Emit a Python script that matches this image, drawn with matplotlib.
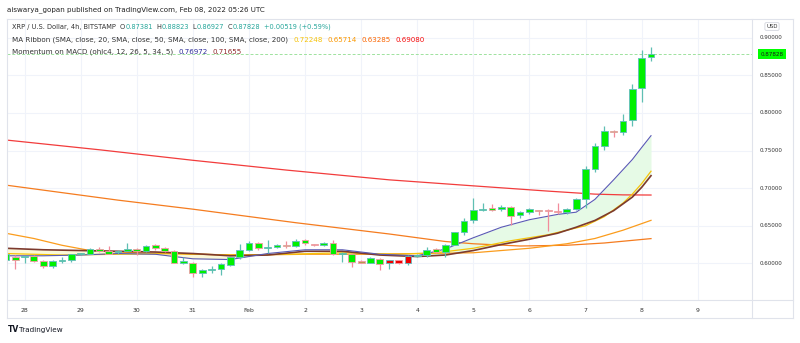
import numpy as np
import matplotlib.pyplot as plt

plt.rcParams['font.family'] = ['DejaVu Sans']

# XRP/USD 4h candles, Jan 27 16:00 .. Feb 8 04:00 UTC (index 0..69)
opens = [0.605, 0.609, 0.608, 0.610, 0.603, 0.596, 0.603, 0.605, 0.612, 0.613,
         0.619, 0.617, 0.615, 0.617, 0.618, 0.617, 0.624, 0.621, 0.617, 0.601,
         0.601, 0.587, 0.591, 0.592, 0.598, 0.608, 0.618, 0.627, 0.620, 0.622,
         0.624, 0.623, 0.631, 0.625, 0.624, 0.627, 0.612, 0.613, 0.603, 0.601,
         0.606, 0.600, 0.604, 0.601, 0.610, 0.611, 0.619, 0.615, 0.625, 0.641,
         0.657, 0.6705, 0.6725, 0.672, 0.675, 0.664, 0.668, 0.671, 0.671, 0.669,
         0.668, 0.672, 0.686, 0.726, 0.756, 0.776, 0.774, 0.790, 0.833, 0.87381]
highs = [0.615, 0.611, 0.610, 0.611, 0.605, 0.604, 0.608, 0.613, 0.614, 0.620,
         0.622, 0.623, 0.618, 0.627, 0.621, 0.624, 0.626, 0.622, 0.618, 0.609,
         0.602, 0.592, 0.596, 0.600, 0.609, 0.626, 0.629, 0.628, 0.631, 0.626,
         0.629, 0.632, 0.632, 0.626, 0.628, 0.631, 0.615, 0.614, 0.604, 0.608,
         0.607, 0.605, 0.605, 0.611, 0.613, 0.622, 0.621, 0.626, 0.642, 0.660,
         0.687, 0.680, 0.679, 0.678, 0.676, 0.669, 0.673, 0.671, 0.672, 0.680,
         0.673, 0.687, 0.730, 0.760, 0.783, 0.777, 0.799, 0.839, 0.884, 0.88823]
lows = [0.603, 0.592, 0.600, 0.602, 0.594, 0.594, 0.600, 0.602, 0.611, 0.612,
        0.615, 0.612, 0.613, 0.616, 0.611, 0.615, 0.618, 0.615, 0.600, 0.599,
        0.582, 0.582, 0.587, 0.584, 0.597, 0.606, 0.617, 0.618, 0.614, 0.620,
        0.620, 0.622, 0.624, 0.623, 0.623, 0.611, 0.602, 0.595, 0.600, 0.600,
        0.591, 0.592, 0.599, 0.598, 0.609, 0.609, 0.614, 0.608, 0.624, 0.638,
        0.653, 0.669, 0.670, 0.669, 0.651, 0.660, 0.666, 0.664, 0.643, 0.666,
        0.666, 0.671, 0.673, 0.721, 0.751, 0.768, 0.771, 0.783, 0.815, 0.86927]
closes = [0.612, 0.605, 0.609, 0.603, 0.596, 0.603, 0.605, 0.612, 0.613, 0.619,
          0.616, 0.613, 0.616, 0.618, 0.617, 0.623, 0.620, 0.616, 0.601, 0.603,
          0.587, 0.591, 0.592, 0.599, 0.608, 0.618, 0.627, 0.620, 0.622, 0.624,
          0.623, 0.629, 0.627, 0.624, 0.627, 0.612, 0.614, 0.602, 0.601, 0.607,
          0.599, 0.604, 0.600, 0.610, 0.611, 0.618, 0.615, 0.625, 0.641, 0.656,
          0.671, 0.6712, 0.6715, 0.675, 0.663, 0.668, 0.672, 0.670, 0.669, 0.668,
          0.672, 0.685, 0.726, 0.756, 0.776, 0.774, 0.789, 0.832, 0.873, 0.87828]
red_bars = [41, 42, 43]
tan_bars = [33, 38, 58, 59]

# MA Ribbon (SMA 20 / 50 / 100 / 200), read at a few bar indexes
sma20_k = [0, 6, 12, 18, 24, 30, 36, 42, 46, 50, 54, 58, 62, 64, 66, 67, 68, 69]
sma20 = [0.613, 0.611, 0.612, 0.613, 0.611, 0.612, 0.614, 0.612, 0.614, 0.620,
         0.630, 0.638, 0.650, 0.662, 0.680, 0.692, 0.706, 0.72248]
sma50_k = [0, 3, 6, 9, 14, 20, 26, 32, 38, 44, 50, 56, 60, 63, 66, 69]
sma50 = [0.640, 0.633, 0.624, 0.617, 0.614, 0.612, 0.611, 0.612, 0.612, 0.613,
         0.614, 0.620, 0.626, 0.633, 0.644, 0.65714]
sma100_k = [0, 12, 20, 31, 41, 47, 50, 55, 60, 64, 69]
sma100 = [0.704, 0.684, 0.672, 0.654, 0.639, 0.629, 0.626, 0.623, 0.624, 0.627, 0.63285]
sma200_k = [0, 10, 20, 30, 41, 50, 58, 63, 66, 69]
sma200 = [0.764, 0.751, 0.737, 0.724, 0.711, 0.703, 0.696, 0.692, 0.691, 0.6908]

# Momentum on MACD, fast / slow lines
macd_k = [0, 4, 8, 12, 16, 20, 24, 28, 32, 36, 40, 44, 47, 50, 53, 56, 59, 61, 63,
          65, 67, 68, 69]
fast = [0.610, 0.610, 0.611, 0.613, 0.612, 0.606, 0.605, 0.613, 0.618, 0.618,
        0.612, 0.610, 0.619, 0.634, 0.648, 0.658, 0.665, 0.668, 0.685, 0.711,
        0.738, 0.754, 0.76972]
slow = [0.620, 0.618, 0.617, 0.616, 0.615, 0.613, 0.610, 0.611, 0.616, 0.616,
        0.611, 0.609, 0.611, 0.617, 0.625, 0.632, 0.640, 0.648, 0.657, 0.670,
        0.688, 0.701, 0.71655]

day_labels = ['28', '29', '30', '31', 'Feb', '2', '3', '4', '5', '6', '7', '8', '9']
price_ticks = [0.60, 0.65, 0.70, 0.75, 0.80, 0.85, 0.90]
last_price = 0.87828

W, H = 800, 343
fig = plt.figure(figsize=(W / 100, H / 100), dpi=100)


def fx(x):
    return x / W


def fy(y):
    return 1 - y / H


# main plot area: x 7..752, y 19..300 px
ax = fig.add_axes([fx(7), fy(300), fx(752) - fx(7), fy(19) - fy(300)])
ax.set_xlim(0.128, 79.8)
ax.set_ylim(0.5512, 0.9249)

grid_c = '#f0f3fa'
for i in range(len(day_labels)):
    ax.axvline(2 + 6 * i, color=grid_c, lw=0.8, zorder=0)
for p in price_ticks:
    ax.axhline(p, color=grid_c, lw=0.8, zorder=0)

# ribbon + momentum lines
fast_a = np.array(fast)
slow_a = np.array(slow)
ax.fill_between(macd_k, fast_a, slow_a, where=fast_a >= slow_a, interpolate=True,
                color='#e6fae6', lw=0, zorder=1)
ax.fill_between(macd_k, fast_a, slow_a, where=fast_a < slow_a, interpolate=True,
                color='#fbf8d8', lw=0, zorder=1)
ax.plot(sma200_k, sma200, color='#f23c3c', lw=0.9, zorder=2)
ax.plot(sma100_k, sma100, color='#f57c1f', lw=0.9, zorder=2)
ax.plot(sma50_k, sma50, color='#fb9c1c', lw=0.9, zorder=2)
ax.plot(sma20_k, sma20, color='#f6c309', lw=0.9, zorder=2)
ax.plot(macd_k, slow, color='#7d3a2e', lw=1.2, zorder=3)
ax.plot(macd_k, fast, color='#5a5ab4', lw=0.8, zorder=3)

# candles
for k in range(len(opens)):
    o, h, l, c = opens[k], highs[k], lows[k], closes[k]
    up = c >= o
    edge = '#62bcc0' if up else '#f49aa6'
    wick = '#5fbfb3' if up else '#f28b9b'
    body = '#00f000'
    if k in red_bars:
        body = '#f00000'
    elif k in tan_bars:
        body = '#b59a4e'
    ax.vlines(k, l, h, color=wick, lw=0.9, zorder=4)
    hgt = max(abs(c - o), 0.0014)
    ax.bar(k, hgt, bottom=min(o, c), width=0.72, color=body, edgecolor=edge,
           lw=0.6, zorder=5)

ax.axhline(last_price, color='#9fe29f', lw=0.7, ls=(0, (3, 2)), zorder=2)

for s in ax.spines.values():
    s.set_visible(False)
ax.set_xticks([])
ax.set_yticks([])

# frame lines
frame_c = '#e0e3eb'
fig.add_artist(plt.Line2D([fx(7), fx(793)], [fy(19), fy(19)], color=frame_c, lw=0.8))
fig.add_artist(plt.Line2D([fx(7), fx(793)], [fy(318), fy(318)], color=frame_c, lw=0.8))
fig.add_artist(plt.Line2D([fx(7), fx(793)], [fy(300), fy(300)], color=frame_c, lw=0.8))
fig.add_artist(plt.Line2D([fx(7), fx(7)], [fy(19), fy(318)], color=frame_c, lw=0.8))
fig.add_artist(plt.Line2D([fx(793), fx(793)], [fy(19), fy(318)], color=frame_c, lw=0.8))
fig.add_artist(plt.Line2D([fx(752), fx(752)], [fy(19), fy(318)], color=frame_c, lw=0.8))

# price scale labels
for p in price_ticks:
    y = 37.7 + (0.90 - p) * 752
    fig.text(fx(771), fy(y), '%.5f' % p, fontsize=4.1, color='#333333',
             ha='center', va='center')
fig.text(fx(772), fy(26.5), 'USD', fontsize=3.9, color='#333333', ha='center',
         va='center', bbox=dict(boxstyle='round,pad=0.25', fc='white',
                                ec='#d1d4dc', lw=0.6))
y_last = 37.7 + (0.90 - last_price) * 752
fig.text(fx(772), fy(y_last), '%.5f' % last_price, fontsize=4.1, color='#1a1a1a',
         ha='center', va='center',
         bbox=dict(boxstyle='square,pad=0.5', fc='#00ff00', ec='none'))

# time scale labels
for i, lab in enumerate(day_labels):
    x = 5.8 + (2 + 6 * i) * 9.35
    fig.text(fx(x), fy(310), lab, fontsize=4.4, color='#333333',
             ha='center', va='center')

# header and legend
fig.text(fx(7), fy(10), 'aiswarya_gopan published on TradingView.com, Feb 08, 2022 05:26 UTC',
         fontsize=5.15, color='#222222', ha='left', va='center')

dark = '#333333'
teal = '#26a69a'
# (text, colour, gap in px before it)
row1 = [('XRP / U.S. Dollar, 4h, BITSTAMP', dark, 0), ('O', dark, 4),
        ('0.87381', teal, 0.3), ('H', dark, 3.5), ('0.88823', teal, 0.3),
        ('L', dark, 3.5), ('0.86927', teal, 0.3), ('C', dark, 3.5),
        ('0.87828', teal, 0.3), ('+0.00519 (+0.59%)', teal, 4)]
row2 = [('MA Ribbon (SMA, close, 20, SMA, close, 50, SMA, close, 100, SMA, close, 200)', dark, 0),
        ('0.72248', '#f6c309', 5), ('0.65714', '#fb9800', 5),
        ('0.63285', '#fb6500', 5), ('0.69080', '#f60c0c', 5)]
row3 = [('Momentum on MACD (ohlc4, 12, 26, 5, 34, 5)', dark, 0),
        ('0.76972', '#2e2e9a', 5), ('0.71655', '#8e2b2b', 5)]

renderer = fig.canvas.get_renderer()
for y, row, fs in [(26.7, row1, 4.8), (40, row2, 5.1), (51.7, row3, 5.1)]:
    x = 12
    for s, c, gap in row:
        x += gap
        t = fig.text(fx(x), fy(y), s, fontsize=fs, color=c, ha='left', va='center')
        x += t.get_window_extent(renderer).width

# logo
fig.text(fx(8), fy(330), 'TV', fontsize=5.5, weight='bold', color='#131722',
         ha='left', va='center')
fig.text(fx(19), fy(330), 'TradingView', fontsize=5.2, color='#131722',
         ha='left', va='center')

fig.savefig('out.png', dpi=100, facecolor='white')
